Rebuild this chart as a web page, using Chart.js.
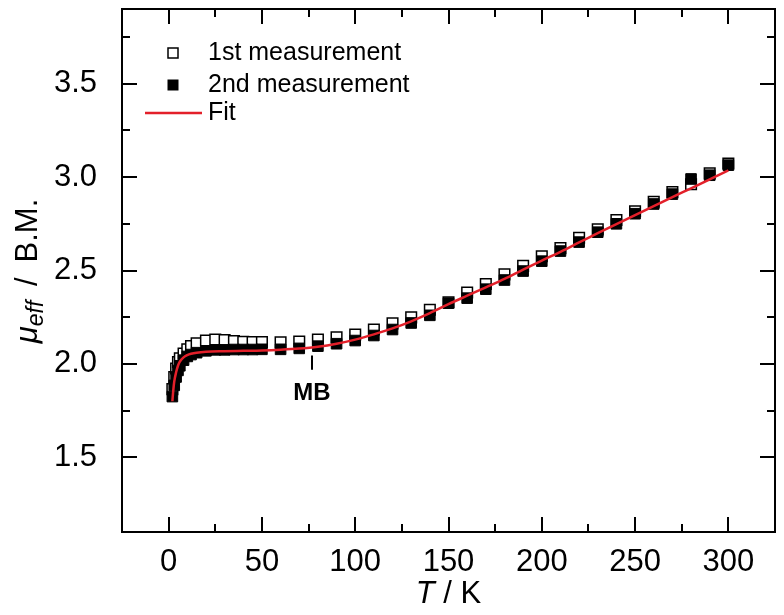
<!DOCTYPE html>
<html>
<head>
<meta charset="utf-8">
<script src="https://cdn.jsdelivr.net/npm/chart.js@4.4.1/dist/chart.umd.min.js"></script>
<style>
  html, body { margin: 0; padding: 0; background: #fff; }
</style>
</head>
<body>
<canvas id="mueff" width="784" height="615"></canvas>
<script>
// temperatures (K) of both measurement runs
var temps = [2, 3, 4, 5, 6, 8, 10, 12, 15, 20, 25, 30, 35, 40, 45, 50,
  60, 70, 80, 90, 100, 110, 120, 130, 140, 150, 160, 170, 180, 190, 200,
  210, 220, 230, 240, 250, 260, 270, 280, 290, 300];
// mu_eff (B.M.) - 1st measurement (open squares)
var firstRun = [1.865, 1.93, 1.975, 2.01, 2.03, 2.055, 2.078, 2.095, 2.11, 2.125, 2.13, 2.128, 2.122, 2.118, 2.117, 2.117,
  2.115, 2.12, 2.13, 2.143, 2.157, 2.184, 2.217, 2.249, 2.29, 2.33, 2.382, 2.428, 2.479, 2.525, 2.576,
  2.62, 2.675, 2.72, 2.77, 2.817, 2.868, 2.92, 2.962, 3.02, 3.073];
// mu_eff (B.M.) - 2nd measurement (filled squares)
var secondRun = [1.825, 1.885, 1.93, 1.965, 1.99, 2.02, 2.04, 2.05, 2.06, 2.07, 2.075, 2.075, 2.077, 2.077, 2.077, 2.078,
  2.078, 2.083, 2.095, 2.108, 2.125, 2.152, 2.184, 2.219, 2.26, 2.325, 2.352, 2.40, 2.449, 2.497, 2.55,
  2.604, 2.652, 2.705, 2.75, 2.804, 2.856, 2.909, 2.99, 3.01, 3.064];
// fit curve
var fitT = [2, 2.5, 3, 4, 5, 6, 8, 10, 12, 15, 20, 30, 40, 50,
  60, 70, 80, 90, 100, 110, 120, 130, 140, 150, 160, 170, 180, 190, 200,
  210, 220, 230, 240, 250, 260, 270, 280, 290, 300];
var fitMu = [1.80, 1.86, 1.905, 1.955, 1.99, 2.012, 2.035, 2.047, 2.054, 2.06, 2.065, 2.068, 2.07, 2.072,
  2.076, 2.082, 2.092, 2.108, 2.13, 2.158, 2.19, 2.228, 2.272, 2.32, 2.365, 2.41, 2.455, 2.505, 2.553,
  2.60, 2.65, 2.70, 2.748, 2.797, 2.845, 2.893, 2.94, 2.988, 3.036];

var xTicks = [0, 50, 100, 150, 200, 250, 300];
var xMinor = [25, 75, 125, 175, 225, 275];
var yTicks = [1.5, 2.0, 2.5, 3.0, 3.5];
var yMinor = [1.75, 2.25, 2.75, 3.25, 3.75];
var seriesNames = ['1st measurement', '2nd measurement', 'Fit'];
var mbT = 77;

var FONT = '"Liberation Sans", Arial, sans-serif';
var RED = '#e3202a';

function pts(xs, ys) {
  return xs.map(function (x, i) { return { x: x, y: ys[i] }; });
}

function drawParts(ctx, parts, x, y) {
  // parts: [text, font, dy]
  var total = 0;
  parts.forEach(function (p) { ctx.font = p[1]; total += ctx.measureText(p[0]).width; });
  var cx = x - total / 2;
  parts.forEach(function (p) {
    ctx.font = p[1];
    ctx.fillText(p[0], cx, y + (p[2] || 0));
    cx += ctx.measureText(p[0]).width;
  });
}

var decorPlugin = {
  id: 'decor',
  afterDatasetsDraw: function (chart) {
    var ctx = chart.ctx, a = chart.chartArea;
    var xs = chart.scales.x, ys = chart.scales.y;
    ctx.save();
    ctx.strokeStyle = '#000';
    ctx.lineWidth = 2;
    ctx.strokeRect(a.left, a.top, a.right - a.left, a.bottom - a.top);

    ctx.beginPath();
    xTicks.concat(xMinor).forEach(function (v) {
      var len = xTicks.indexOf(v) >= 0 ? 15 : 8;
      var px = Math.round(xs.getPixelForValue(v));
      ctx.moveTo(px, a.bottom); ctx.lineTo(px, a.bottom - len);
      ctx.moveTo(px, a.top); ctx.lineTo(px, a.top + len);
    });
    yTicks.concat(yMinor).forEach(function (v) {
      var len = yTicks.indexOf(v) >= 0 ? 15 : 8;
      var py = Math.round(ys.getPixelForValue(v));
      ctx.moveTo(a.left, py); ctx.lineTo(a.left + len, py);
      ctx.moveTo(a.right, py); ctx.lineTo(a.right - len, py);
    });
    ctx.stroke();

    // MB marker
    var mx = Math.round(xs.getPixelForValue(mbT));
    ctx.beginPath();
    ctx.moveTo(mx, ys.getPixelForValue(2.045));
    ctx.lineTo(mx, ys.getPixelForValue(1.968));
    ctx.stroke();
    ctx.fillStyle = '#000';
    ctx.textAlign = 'center';
    ctx.textBaseline = 'middle';
    ctx.font = 'bold 24px ' + FONT;
    ctx.fillText('MB', mx, ys.getPixelForValue(1.84));

    // legend
    var lx = a.left + 51, rows = [a.top + 44, a.top + 76, a.top + 104];
    ctx.lineWidth = 1.5;
    ctx.fillStyle = '#fff';
    ctx.fillRect(lx - 5, rows[0] - 5, 10, 10);
    ctx.strokeRect(lx - 5, rows[0] - 5, 10, 10);
    ctx.fillStyle = '#000';
    ctx.fillRect(lx - 5.5, rows[1] - 5.5, 11, 11);
    ctx.strokeStyle = RED;
    ctx.lineWidth = 2.5;
    ctx.beginPath();
    ctx.moveTo(a.left + 23, rows[2]); ctx.lineTo(a.left + 80, rows[2]);
    ctx.stroke();
    ctx.fillStyle = '#000';
    ctx.textAlign = 'left';
    ctx.font = '25px ' + FONT;
    seriesNames.forEach(function (s, i) { ctx.fillText(s, a.left + 86, rows[i]); });

    // axis titles
    ctx.textAlign = 'left';
    ctx.textBaseline = 'middle';
    drawParts(ctx, [['T', 'italic 31px ' + FONT], [' / K', '31px ' + FONT]], (a.left + a.right) / 2, 594);
    ctx.textBaseline = 'alphabetic';
    ctx.translate(37, 271);
    ctx.rotate(-Math.PI / 2);
    drawParts(ctx, [['\u03bc', 'italic 31px ' + FONT, 0], ['eff', 'italic 23px ' + FONT, 6],
      [' \u2009/\u2009 B.M.', '31px ' + FONT, 0]], 0, 0);
    ctx.restore();
  }
};

function noPad(scale) {
  scale.paddingTop = 0;
  scale.paddingBottom = 0;
  scale.paddingLeft = 0;
  scale.paddingRight = 0;
}

new Chart(document.getElementById('mueff'), {
  type: 'scatter',
  data: {
    datasets: [
      {
        label: seriesNames[2],
        data: pts(fitT, fitMu),
        showLine: true,
        borderColor: RED,
        borderWidth: 2.5,
        pointRadius: 0,
        cubicInterpolationMode: 'monotone',
        fill: false
      },
      {
        label: seriesNames[1],
        data: pts(temps, secondRun),
        pointStyle: 'rect',
        pointRadius: 7.5,
        backgroundColor: '#000',
        borderColor: '#000',
        borderWidth: 1
      },
      {
        label: seriesNames[0],
        data: pts(temps, firstRun),
        pointStyle: 'rect',
        pointRadius: 7.5,
        backgroundColor: '#fff',
        borderColor: '#000',
        borderWidth: 1.5
      }
    ]
  },
  options: {
    responsive: false,
    animation: false,
    devicePixelRatio: 1,
    layout: { padding: { top: 3, right: 4, left: 0, bottom: 0 } },
    plugins: {
      legend: { display: false },
      tooltip: { enabled: false }
    },
    scales: {
      x: {
        type: 'linear',
        min: -25,
        max: 325,
        grid: { display: false },
        border: { display: false },
        afterBuildTicks: function (scale) {
          scale.ticks = xTicks.map(function (v) { return { value: v }; });
        },
        afterFit: function (scale) { scale.height = 83; noPad(scale); },
        ticks: {
          color: '#000',
          padding: 4,
          maxRotation: 0,
          autoSkip: false,
          font: { family: FONT, size: 31 }
        }
      },
      y: {
        type: 'linear',
        min: 1.1,
        max: 3.9,
        grid: { display: false },
        border: { display: false },
        afterBuildTicks: function (scale) {
          scale.ticks = yTicks.map(function (v) { return { value: v }; });
        },
        afterFit: function (scale) { scale.width = 122; noPad(scale); },
        ticks: {
          color: '#000',
          padding: 17,
          font: { family: FONT, size: 31 },
          callback: function (v) { return Number(v).toFixed(1); }
        }
      }
    }
  },
  plugins: [decorPlugin]
});
</script>
</body>
</html>
